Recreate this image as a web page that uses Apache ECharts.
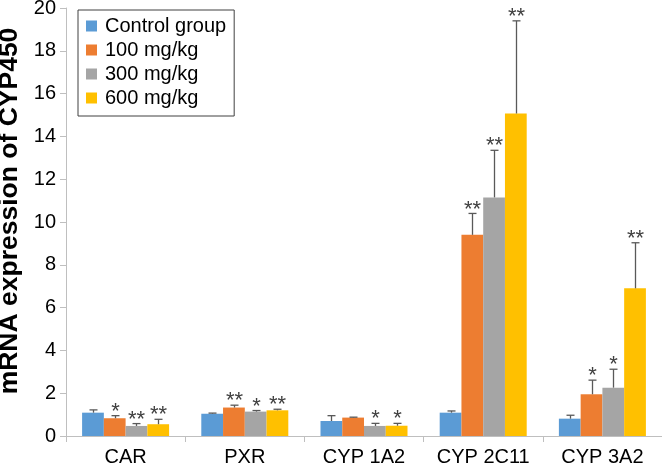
<!DOCTYPE html>
<html><head><meta charset="utf-8">
<script src="https://cdn.jsdelivr.net/npm/echarts@6/dist/echarts.min.js"></script>
<style>html,body{margin:0;padding:0;background:#fff}#c{width:662px;height:464px}</style>
</head><body><div id="c"></div>
<script>
const categories = ['CAR', 'PXR', 'CYP 1A2', 'CYP 2C11', 'CYP 3A2'];
const seriesNames = ['Control group', '100 mg/kg', '300 mg/kg', '600 mg/kg'];
const controlVals = [1.09, 1.04, 0.70, 1.09, 0.81];
const mg100Vals   = [0.83, 1.33, 0.86, 9.40, 1.95];
const mg300Vals   = [0.47, 1.14, 0.47, 11.15, 2.26];
const mg600Vals   = [0.55, 1.20, 0.48, 15.07, 6.90];
const controlErr = [0.13, 0.03, 0.25, 0.08, 0.16];
const mg100Err   = [0.12, 0.11, 0.02, 1.00, 0.66];
const mg300Err   = [0.11, 0.05, 0.12, 2.20, 0.86];
const mg600Err   = [0.23, 0.05, 0.11, 4.33, 2.13];
const controlSig = ['', '', '', '', ''];
const mg100Sig   = ['*', '**', '', '**', '*'];
const mg300Sig   = ['**', '*', '*', '**', '*'];
const mg600Sig   = ['**', '**', '*', '**', '**'];
const yTicks = { min: 0, max: 20, interval: 2 };

const colors = ['#5B9BD5', '#ED7D31', '#A5A5A5', '#FFC000'];
const vals = [controlVals, mg100Vals, mg300Vals, mg600Vals];
const errs = [controlErr, mg100Err, mg300Err, mg600Err];
const sigs = [controlSig, mg100Sig, mg300Sig, mg600Sig];
const GAP = 0.27;
const FONT = 'Arial';

const series = [];
seriesNames.forEach((n, i) => {
  series.push({
    name: n, type: 'bar', data: vals[i], barGap: '0%', barCategoryGap: (GAP*100)+'%',
    itemStyle: { color: colors[i] }, z: 2
  });
});
seriesNames.forEach((n, i) => {
  series.push({
    name: n + ' err', type: 'custom', z: 5,
    data: categories.map((c, k) => [k, vals[i][k], vals[i][k] + errs[i][k]]),
    encode: { x: 0, y: [1, 2] },
    renderItem: function (params, api) {
      const k = api.value(0);
      const band = api.size([1, 0])[0];
      const bw = band * (1 - GAP) / 4;
      const off = (i - 1.5) * bw;
      const p0 = api.coord([k, api.value(1)]);
      const p1 = api.coord([k, api.value(2)]);
      const x = Math.round(p0[0] + off) + 0.5;
      const sig = sigs[i][k];
      const st = { stroke: '#595959', lineWidth: 1.3 };
      const children = [
        { type: 'line', shape: { x1: x, y1: p0[1], x2: x, y2: p1[1] }, style: st },
        { type: 'line', shape: { x1: x - 4, y1: p1[1], x2: x + 4, y2: p1[1] }, style: st }
      ];
      if (sig) {
        children.push({ type: 'text', style: { text: sig, x: x, y: p1[1] + 7, align: 'center', verticalAlign: 'bottom', fill: '#404040', font: '22px Arial' } });
      }
      return { type: 'group', children: children };
    }
  });
});

const chart = echarts.init(document.getElementById('c'));
chart.setOption({
  animation: false,
  grid: { left: 66, right: 0, top: 8, bottom: 28, containLabel: false, outerBoundsMode: 'none' },
  legend: {
    data: seriesNames, orient: 'vertical', left: 78, top: 10,
    itemWidth: 11, itemHeight: 11, itemGap: 4, icon: 'rect',
    padding: [6, 8, 8, 8],
    borderColor: '#404040', borderWidth: 1,
    textStyle: { fontSize: 20, color: '#000', fontFamily: FONT, padding: [0, 0, 0, 3] }
  },
  xAxis: {
    type: 'category', data: categories,
    axisLine: { lineStyle: { color: '#BFBFBF', width: 1 } },
    axisTick: { show: true, alignWithLabel: false, length: 6, lineStyle: { color: '#BFBFBF' } },
    axisLabel: { fontSize: 20, color: '#000', fontFamily: FONT, margin: 11, interval: 0 }
  },
  yAxis: {
    type: 'value', min: yTicks.min, max: yTicks.max, interval: yTicks.interval,
    name: 'mRNA expression of CYP450', nameLocation: 'middle', nameGap: 36,
    nameTextStyle: { fontSize: 26.5, fontWeight: 'bold', color: '#000', fontFamily: FONT, padding: [0, 0, 0, 22] },
    axisLine: { show: true, lineStyle: { color: '#BFBFBF' } },
    axisTick: { show: true, length: 6, lineStyle: { color: '#BFBFBF' } },
    splitLine: { show: false },
    axisLabel: { fontSize: 20, color: '#000', fontFamily: FONT, margin: 10 }
  },
  series: series
});
</script></body></html>
